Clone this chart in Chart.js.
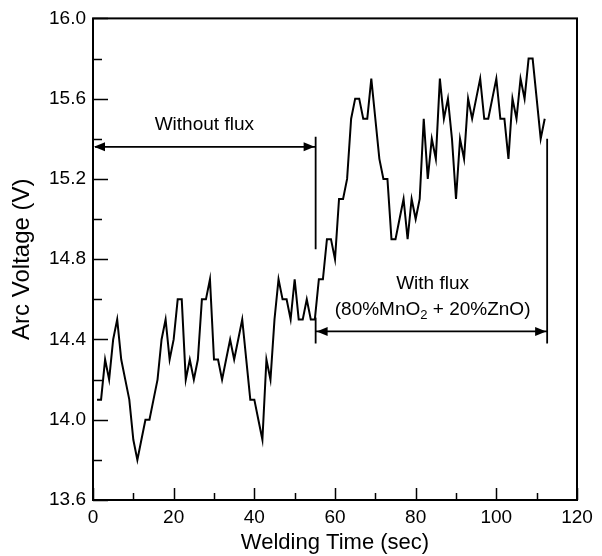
<!DOCTYPE html>
<html>
<head>
<meta charset="utf-8">
<script src="https://cdn.jsdelivr.net/npm/chart.js@4.4.0/dist/chart.umd.min.js"></script>
<style>
  html, body { margin: 0; padding: 0; background: #fff; }
  #wrap { width: 602px; height: 556px; }
</style>
</head>
<body>
<div id="wrap"><canvas id="arcChart" width="602" height="556"></canvas></div>
<script>
const weldTime = [];
for (let t = 1; t <= 112; t++) weldTime.push(t);

const arcVoltage = [
    14.1, 14.1, 14.3, 14.2, 14.4, 14.5, 14.3, 14.2, 14.1, 13.9,
    13.8, 13.9, 14.0, 14.0, 14.1, 14.2, 14.4, 14.5, 14.3, 14.4,
    14.6, 14.6, 14.2, 14.3, 14.2, 14.3, 14.6, 14.6, 14.7, 14.3,
    14.3, 14.2, 14.3, 14.4, 14.3, 14.4, 14.5, 14.3, 14.1, 14.1,
    14.0, 13.9, 14.3, 14.2, 14.5, 14.7, 14.6, 14.6, 14.5, 14.7,
    14.5, 14.5, 14.6, 14.5, 14.5, 14.7, 14.7, 14.9, 14.9, 14.8,
    15.1, 15.1, 15.2, 15.5, 15.6, 15.6, 15.5, 15.5, 15.7, 15.5,
    15.3, 15.2, 15.2, 14.9, 14.9, 15.0, 15.1, 14.9, 15.1, 15.0,
    15.1, 15.5, 15.2, 15.4, 15.3, 15.7, 15.5, 15.6, 15.4, 15.1,
    15.4, 15.3, 15.6, 15.5, 15.6, 15.7, 15.5, 15.5, 15.6, 15.7,
    15.5, 15.5, 15.3, 15.6, 15.5, 15.7, 15.6, 15.8, 15.8, 15.6,
    15.4, 15.5
];

const xTickLabels = ['0', '20', '40', '60', '80', '100', '120'];
const yTickLabels = ['13.6', '14.0', '14.4', '14.8', '15.2', '15.6', '16.0'];

// the two regions marked on the plot
const fluxBreak = 55.2;
const runEnd = 112.6;

const FONT = 'Liberation Sans, Arial, sans-serif';

// inward tick marks + frame
const frameTicks = {
    id: 'frameTicks',
    afterDraw(chart) {
        const { ctx, chartArea: a, scales } = chart;
        ctx.save();
        ctx.strokeStyle = '#000';
        ctx.lineWidth = 1.5;
        ctx.beginPath();
        scales.x.ticks.forEach(t => {
            const px = Math.round(scales.x.getPixelForValue(t.value)) + 0.5;
            const len = t.value % 20 === 0 ? 12 : 7;
            ctx.moveTo(px, a.bottom);
            ctx.lineTo(px, a.bottom - len);
        });
        scales.y.ticks.forEach(t => {
            const py = Math.round(scales.y.getPixelForValue(t.value)) + 0.5;
            const major = Math.round(t.value * 10) % 4 === 0;
            ctx.moveTo(a.left, py);
            ctx.lineTo(a.left + (major ? 15 : 9), py);
        });
        ctx.stroke();
        ctx.lineWidth = 2;
        ctx.strokeRect(a.left, a.top, a.right - a.left, a.bottom - a.top);
        ctx.restore();
    }
};

function arrowHead(ctx, x, y, dir) {
    ctx.beginPath();
    ctx.moveTo(x, y);
    ctx.lineTo(x - dir * 11, y - 4.5);
    ctx.lineTo(x - dir * 11, y + 4.5);
    ctx.closePath();
    ctx.fill();
}

const regionNotes = {
    id: 'regionNotes',
    afterDraw(chart) {
        const { ctx, scales: { x, y } } = chart;
        ctx.save();
        ctx.strokeStyle = '#000';
        ctx.fillStyle = '#000';
        ctx.lineWidth = 1.8;

        // without flux
        const xa = x.getPixelForValue(0), xb = x.getPixelForValue(fluxBreak), xc = x.getPixelForValue(runEnd);
        const y1 = y.getPixelForValue(15.36);
        ctx.beginPath();
        ctx.moveTo(xa + 2, y1); ctx.lineTo(xb, y1);
        ctx.moveTo(xb, y.getPixelForValue(15.41)); ctx.lineTo(xb, y.getPixelForValue(14.85));
        ctx.stroke();
        arrowHead(ctx, xa + 1, y1, -1);
        arrowHead(ctx, xb - 1, y1, 1);

        // with flux
        const y2 = y.getPixelForValue(14.44);
        ctx.beginPath();
        ctx.moveTo(xb, y2); ctx.lineTo(xc, y2);
        ctx.moveTo(xb, y.getPixelForValue(14.51)); ctx.lineTo(xb, y.getPixelForValue(14.38));
        ctx.moveTo(xc, y.getPixelForValue(15.40)); ctx.lineTo(xc, y.getPixelForValue(14.38));
        ctx.stroke();
        arrowHead(ctx, xb + 1, y2, -1);
        arrowHead(ctx, xc - 1, y2, 1);

        ctx.font = '19px ' + FONT;
        ctx.textBaseline = 'middle';
        ctx.textAlign = 'center';
        ctx.fillText('Without flux', x.getPixelForValue(27.6), y.getPixelForValue(15.47));
        ctx.fillText('With flux', x.getPixelForValue(84.2), y.getPixelForValue(14.68));

        // (80%MnO2 + 20%ZnO) with subscript
        const parts = ['(80%MnO', '2', ' + 20%ZnO)'];
        ctx.font = '19px ' + FONT;
        const w0 = ctx.measureText(parts[0]).width, w2 = ctx.measureText(parts[2]).width;
        ctx.font = '13px ' + FONT;
        const w1 = ctx.measureText(parts[1]).width;
        const cy = y.getPixelForValue(14.55);
        let sx = x.getPixelForValue(84.2) - (w0 + w1 + w2) / 2;
        ctx.textAlign = 'left';
        ctx.font = '19px ' + FONT;
        ctx.fillText(parts[0], sx, cy);
        ctx.font = '13px ' + FONT;
        ctx.fillText(parts[1], sx + w0, cy + 6);
        ctx.font = '19px ' + FONT;
        ctx.fillText(parts[2], sx + w0 + w1, cy);
        ctx.restore();
    }
};

const points = weldTime.map((t, i) => ({ x: t, y: arcVoltage[i] }));

new Chart(document.getElementById('arcChart'), {
    type: 'line',
    data: {
        datasets: [{
            data: points,
            borderColor: '#000',
            borderWidth: 2,
            pointRadius: 0,
            tension: 0,
            fill: false
        }]
    },
    options: {
        responsive: false,
        animation: false,
        layout: { padding: { top: 16, right: 25, left: 0, bottom: 0 } },
        plugins: { legend: { display: false }, tooltip: { enabled: false } },
        scales: {
            x: {
                type: 'linear',
                min: 0,
                max: 120,
                afterFit: s => { s.height = 56; },
                grid: { display: false, drawTicks: false },
                border: { display: false },
                ticks: {
                    stepSize: 10,
                    padding: 6,
                    color: '#000',
                    font: { family: FONT, size: 19 },
                    maxRotation: 0,
                    autoSkip: false,
                    callback: v => xTickLabels.includes(String(v)) ? String(v) : ''
                },
                title: {
                    display: true,
                    text: 'Welding Time (sec)',
                    color: '#000',
                    font: { family: FONT, size: 22 },
                    padding: { top: 0, bottom: 0 }
                }
            },
            y: {
                min: 13.6,
                max: 16.0,
                afterFit: s => { s.width = 93; },
                grid: { display: false, drawTicks: false },
                border: { display: false },
                ticks: {
                    stepSize: 0.2,
                    padding: 7,
                    color: '#000',
                    font: { family: FONT, size: 19 },
                    autoSkip: false,
                    callback: v => {
                        const s = v.toFixed(1);
                        return yTickLabels.includes(s) ? s : '';
                    }
                },
                title: {
                    display: true,
                    text: 'Arc Voltage (V)',
                    color: '#000',
                    font: { family: FONT, size: 24 },
                    padding: { top: 8, bottom: 0 }
                }
            }
        }
    },
    plugins: [frameTicks, regionNotes]
});
</script>
</body>
</html>
